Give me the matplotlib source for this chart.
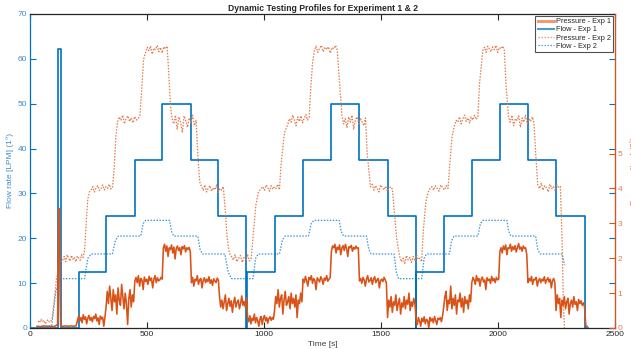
import numpy as np
import matplotlib
matplotlib.use("Agg")
import matplotlib.pyplot as plt
from matplotlib.lines import Line2D

plt.rcParams['font.family'] = ['Liberation Sans', 'DejaVu Sans']

# ---------------- DATA ----------------
# Flow - Exp 1 (step profile, LPM), drawn as steps-post
flow1_t = [0, 119, 133, 208, 325, 448, 566, 686, 805, 925, 929, 1045, 1167, 1288,
           1408, 1528, 1648, 1650, 1768, 1888, 2008, 2128, 2248, 2370, 2385]
flow1_v = [0, 62.3, 0, 12.5, 25, 37.5, 50, 37.5, 25, 0, 12.5, 25, 37.5, 50,
           37.5, 25, 0, 12.5, 25, 37.5, 50, 37.5, 25, 0, 0]

# Flow - Exp 2 (LPM)
flow2_t = [30, 93, 110, 127, 233, 247, 261, 352, 365, 378, 473, 484, 494, 596, 605, 614,
           717, 727, 737, 833, 847, 861, 953, 964, 975, 1066, 1078, 1090, 1190, 1202, 1213,
           1321, 1330, 1340, 1438, 1448, 1458, 1556, 1565, 1575, 1674, 1684, 1694, 1792,
           1802, 1812, 1914, 1925, 1935, 2038, 2046, 2055, 2161, 2170, 2180, 2274, 2285]
flow2_v = [0, 0.5, 8, 11, 11, 15.5, 16.5, 16.5, 19.5, 20.5, 20.5, 23.3, 24, 24, 21.5, 20.5,
           20.5, 17.5, 16.5, 16.5, 12.5, 11, 11, 15.5, 16.5, 16.5, 19.5, 20.5, 20.5, 23.3, 24,
           24, 21.5, 20.5, 20.5, 17.5, 16.5, 16.5, 12.5, 11, 11, 15.5, 16.5, 16.5,
           19.5, 20.5, 20.5, 23.3, 24, 24, 21.5, 20.5, 20.5, 17.5, 16.5, 16.5, 14]

# Pressure - Exp 1 (bar) : segments (t_start, t_end, samples)
press1_segments = [
    (30, 118, [0.05, 0.04, 0.06, 0.05, 0.05, 0.04]),
    (118, 131, [0.1, 2.0, 3.43, 3.2, 1.0]),
    (131, 208, [0.06, 0.05, 0.06, 0.05, 0.06, 0.05, 0.06]),
    (208, 325, [0.35, 0.2, 0.3, 0.15, 0.38, 0.25, 0.32, 0.12, 0.28, 0.36, 0.22, 0.3, 0.18, 0.33, 0.27, 0.4, 0.2, 0.29, 0.1, 0.34, 0.26, 0.31, 0.05, 0.3]),
    (325, 448, [0.6, 1.05, 0.7, 1.2, 0.85, 0.5, 1.1, 0.75, 0.95, 0.4, 1.15, 0.8, 0.65, 1.25, 0.9, 0.55, 1.0, 0.7, 0.1, 0.85, 1.1, 0.6, 0.95, 0.75]),
    (448, 570, [1.35, 1.45, 1.3, 1.5, 1.2, 1.42, 1.38, 1.1, 1.46, 1.33, 1.4, 1.25, 1.48, 1.36, 1.43, 1.15, 1.4, 1.5, 1.3, 1.44, 1.35, 1.38, 1.45, 1.4]),
    (570, 690, [2.3, 2.4, 2.2, 2.35, 2.05, 2.3, 2.25, 2.38, 2.15, 2.32, 1.98, 2.28, 2.35, 2.22, 2.3, 2.1, 2.33, 2.27, 2.36, 2.18, 2.3, 2.25, 2.31, 2.2]),
    (690, 810, [1.3, 1.45, 1.2, 1.4, 1.35, 1.5, 1.25, 1.38, 1.42, 1.15, 1.36, 1.44, 1.3, 1.4, 1.33, 1.47, 1.28, 1.38, 1.22, 1.41, 1.35, 1.3, 1.43, 1.37]),
    (810, 930, [0.9, 0.6, 0.8, 0.55, 0.75, 0.95, 0.5, 0.7, 0.85, 0.62, 0.78, 0.45, 0.72, 0.88, 0.6, 0.74, 0.8, 0.55, 0.7, 0.92, 0.65, 0.76, 0.6, 0.85]),
    (930, 1045, [0.3, 0.18, 0.35, 0.12, 0.28, 0.22, 0.4, 0.15, 0.3, 0.2, 0.05, 0.26, 0.33, 0.1, 0.28, 0.36, 0.2, 0.3, 0.14, 0.27, 0.32, 0.22, 0.3, 0.25]),
    (1045, 1167, [0.5, 0.9, 0.7, 1.1, 0.6, 0.85, 0.95, 0.4, 0.8, 1.05, 0.65, 0.75, 0.9, 0.55, 1.0, 0.7, 0.85, 0.6, 0.95, 0.3, 0.8, 0.7, 1.0, 0.75]),
    (1167, 1288, [1.4, 1.3, 1.48, 1.35, 1.2, 1.45, 1.38, 1.5, 1.28, 1.42, 1.36, 1.1, 1.44, 1.38, 1.32, 1.47, 1.4, 1.25, 1.43, 1.37, 1.5, 1.34, 1.4, 1.45]),
    (1288, 1408, [2.2, 2.35, 2.3, 2.4, 2.15, 2.32, 2.25, 2.38, 2.1, 2.3, 2.36, 2.22, 2.4, 2.28, 2.05, 2.33, 2.3, 2.37, 2.2, 2.31, 2.26, 2.35, 2.28, 2.3]),
    (1408, 1528, [1.35, 1.42, 1.28, 1.45, 1.38, 1.2, 1.4, 1.5, 1.32, 1.36, 1.44, 1.25, 1.4, 1.47, 1.3, 1.38, 1.42, 1.15, 1.36, 1.4, 1.33, 1.45, 1.38, 1.3]),
    (1528, 1650, [0.3, 0.8, 0.6, 0.9, 0.45, 0.75, 0.65, 0.95, 0.5, 0.7, 0.85, 0.4, 0.72, 0.6, 0.9, 0.55, 0.8, 0.68, 1.0, 0.5, 0.75, 0.62, 0.85, 0.7]),
    (1650, 1768, [0.25, 0.1, 0.3, 0.2, 0.05, 0.28, 0.18, 0.32, 0.12, 0.25, 0.22, 0.0, 0.3, 0.2, 0.27, 0.15, 0.33, 0.22, 0.1, 0.28, 0.24, 0.3, 0.18, 0.35]),
    (1768, 1888, [0.6, 0.9, 1.05, 0.5, 0.8, 0.7, 1.2, 0.55, 0.85, 0.65, 0.95, 0.4, 0.8, 0.75, 1.0, 0.6, 0.85, 0.45, 0.9, 0.7, 0.8, 0.55, 0.95, 0.75]),
    (1888, 2008, [1.3, 1.45, 1.38, 1.25, 1.5, 1.35, 1.42, 1.2, 1.4, 1.46, 1.32, 1.38, 1.1, 1.44, 1.36, 1.4, 1.28, 1.48, 1.35, 1.42, 1.3, 1.45, 1.38, 1.4]),
    (2008, 2128, [2.2, 2.3, 2.15, 2.35, 2.25, 2.38, 2.1, 2.3, 2.28, 2.4, 2.2, 2.33, 2.25, 2.36, 2.18, 2.3, 2.42, 2.26, 2.32, 2.2, 2.35, 2.28, 2.3, 2.1]),
    (2128, 2248, [1.3, 1.42, 1.35, 1.48, 1.25, 1.4, 1.38, 1.45, 1.2, 1.36, 1.42, 1.3, 1.4, 1.35, 1.47, 1.28, 1.38, 1.44, 1.32, 1.4, 1.15, 1.36, 1.42, 1.3]),
    (2248, 2370, [0.5, 0.95, 0.7, 0.85, 0.3, 0.8, 0.65, 0.9, 0.55, 0.75, 0.85, 0.4, 0.7, 0.8, 0.6, 0.9, 0.68, 0.75, 0.5, 0.82, 0.7, 0.78, 0.65, 0.72]),
    (2370, 2386, [0.6, 0.05, 0.05]),
]

# Pressure - Exp 2 (bar) : segments (t_start, t_end, samples)
press2_segments = [
    (35, 95, [0.2, 0.15, 0.25, 0.18, 0.22, 0.12, 0.2, 0.24, 0.17, 0.2]),
    (95, 140, [0.3, 0.8, 1.4, 1.7, 1.9]),
    (140, 233, [1.95, 2.05, 1.9, 2.1, 2.0, 1.92, 2.08, 1.97, 2.03, 1.9, 2.06, 2.0, 1.94, 2.1, 2.02]),
    (233, 261, [2.2, 3.0, 3.7, 3.9]),
    (261, 360, [3.95, 4.05, 3.9, 4.02, 4.08, 3.94, 4.0, 4.1, 3.96, 4.05, 4.0, 4.12, 3.98, 4.06]),
    (360, 374, [4.6, 5.5]),
    (374, 477, [5.9, 6.05, 5.95, 6.1, 5.85, 6.0, 6.08, 5.92, 6.02, 5.88, 6.06, 5.96, 6.0, 6.1]),
    (477, 494, [6.8, 7.7]),
    (494, 593, [7.9, 8.05, 7.95, 8.08, 7.85, 8.02, 7.98, 8.1, 7.92, 8.04, 7.88, 8.06, 8.0, 8.08]),
    (593, 607, [7.3, 6.4]),
    (607, 717, [6.0, 5.85, 6.1, 5.7, 6.05, 5.9, 5.6, 6.08, 5.95, 5.75, 6.02, 5.88, 6.1, 5.8, 5.95]),
    (717, 733, [5.0, 4.2]),
    (733, 833, [4.05, 3.95, 4.1, 3.9, 4.0, 4.08, 3.92, 4.02, 3.96, 4.1, 3.88, 4.0, 3.95, 4.05]),
    (833, 861, [3.5, 2.6, 2.15]),
    (861, 953, [2.05, 1.95, 2.1, 1.9, 2.0, 2.08, 1.88, 2.02, 1.96, 2.1, 1.92, 2.0]),
    (953, 988, [2.6, 3.5, 3.9]),
    (988, 1073, [4.0, 4.05, 3.95, 4.1, 4.02, 3.92, 4.08, 3.98, 4.05, 4.0, 4.12, 3.96]),
    (1073, 1102, [4.7, 5.6]),
    (1102, 1200, [5.85, 6.0, 5.9, 6.1, 5.95, 5.8, 6.05, 5.92, 6.08, 5.88, 6.02, 6.12, 5.96, 6.05]),
    (1200, 1215, [6.9, 7.6]),
    (1215, 1321, [7.95, 8.08, 7.9, 8.02, 8.1, 7.92, 8.05, 7.98, 8.06, 7.88, 8.04, 8.0, 8.1, 7.95]),
    (1321, 1333, [7.2]),
    (1333, 1441, [6.1, 5.85, 6.0, 5.75, 6.05, 5.9, 6.1, 5.7, 5.98, 6.05, 5.85, 6.0, 5.9, 5.8, 6.02]),
    (1441, 1455, [5.0]),
    (1455, 1556, [4.05, 4.12, 3.95, 4.08, 4.0, 3.9, 4.1, 4.02, 3.96, 4.06, 3.92, 4.0, 4.05, 3.98]),
    (1556, 1580, [3.4, 2.5]),
    (1580, 1681, [2.05, 1.9, 2.0, 1.85, 2.08, 1.95, 2.02, 1.88, 2.05, 1.92, 2.1, 1.96, 2.0, 1.9]),
    (1681, 1702, [2.8, 3.6]),
    (1702, 1794, [3.9, 4.0, 4.05, 3.95, 4.08, 4.0, 3.92, 4.1, 4.02, 3.96, 4.08, 4.0]),
    (1794, 1814, [4.7, 5.5]),
    (1814, 1921, [5.8, 5.95, 5.9, 6.05, 5.85, 6.0, 6.1, 5.92, 6.02, 5.88, 6.05, 5.96, 6.1, 5.98, 6.04]),
    (1921, 1935, [7.0]),
    (1935, 2034, [7.95, 8.05, 7.9, 8.08, 8.0, 7.92, 8.06, 7.98, 8.1, 7.9, 8.04, 8.0, 8.08, 7.96]),
    (2034, 2045, [7.0]),
    (2045, 2161, [6.05, 5.9, 6.1, 5.8, 6.0, 5.95, 6.08, 5.75, 6.02, 5.9, 6.1, 5.85, 6.0, 5.92, 6.05, 5.88]),
    (2161, 2170, [5.0]),
    (2170, 2274, [4.1, 4.0, 4.15, 3.95, 4.08, 4.02, 3.9, 4.12, 4.0, 4.06, 3.94, 4.1, 4.02, 4.05]),
    (2274, 2289, [2.5, 0.8, 0.0]),
]

x_ticks = [0, 500, 1000, 1500, 2000, 2500]
left_ticks = [0, 10, 20, 30, 40, 50, 60, 70]
right_ticks = [0, 1, 2, 3, 4, 5]


def flatten(segments):
    ts, vs = [], []
    for t0, t1, vals in segments:
        n = len(vals)
        ts.extend(np.linspace(t0, t1, n, endpoint=False))
        vs.extend(vals)
    return np.array(ts), np.array(vs)


p1_t, p1_v = flatten(press1_segments)
p2_t, p2_v = flatten(press2_segments)

BLUE = '#0072BD'
ORANGE = '#D95319'

fig = plt.figure(figsize=(6.31, 3.49), dpi=100)
ax = fig.add_axes([30 / 631, 21 / 349, 585 / 631, 314 / 349])
ax2 = ax.twinx()

ax.plot(flow1_t, flow1_v, drawstyle='steps-post', color=BLUE, lw=1.2, zorder=3)
ax.plot(flow2_t, flow2_v, color='#3C96D6', lw=0.9, ls=(0, (1.2, 1.2)), zorder=2)

ax2.plot(p1_t, p1_v, color=ORANGE, lw=1.15, zorder=3)
ax2.plot(p2_t, p2_v, color='#E27A4C', lw=0.9, ls=(0, (1.2, 1.2)), zorder=2)

ax.set_xlim(0, 2500)
ax.set_ylim(0, 70)
ax2.set_ylim(0, 9.0)
ax.set_xticks(x_ticks)
ax.set_yticks(left_ticks)
ax2.set_yticks(right_ticks)

ax.tick_params(axis='x', direction='in', top=True, length=4, width=0.8,
               labelsize=6, colors='#262626', pad=2)
ax.tick_params(axis='y', direction='in', right=True, length=4, width=0.8,
               labelsize=6, color=BLUE, labelcolor='#3C8DCB', pad=2)
ax2.tick_params(axis='y', direction='in', length=4, width=0.8,
                labelsize=6, color=ORANGE, labelcolor='#E07A4E', pad=2)

for s in ['top', 'bottom']:
    ax.spines[s].set_color('#262626')
    ax.spines[s].set_linewidth(0.9)
    ax2.spines[s].set_visible(False)
ax.spines['left'].set_color(BLUE)
ax.spines['left'].set_linewidth(0.9)
ax.spines['right'].set_color(BLUE)
ax2.spines['left'].set_visible(False)
ax2.spines['right'].set_color(ORANGE)
ax2.spines['right'].set_linewidth(0.9)

ax.set_xlabel('Time [s]', fontsize=6, color='#404040', labelpad=2)
ax.set_ylabel('Flow rate [LPM] (1°)', fontsize=6, color='#3C8DCB', labelpad=3)
ax2.set_ylabel('Pressure [bar] (2°)', fontsize=6, color='#E07A4E')
ax2.yaxis.set_label_coords(1.0 + 15 / 585, 0.5)
ax.set_title('Dynamic Testing Profiles for Experiment 1 & 2', fontsize=6.2,
             fontweight='bold', color='#262626', pad=2.5)

handles = [
    Line2D([], [], color='#EE9B77', lw=2.2),
    Line2D([], [], color='#4C9AD6', lw=1.5),
    Line2D([], [], color='#EE9B77', lw=0.9, ls=(0, (1.2, 1.2))),
    Line2D([], [], color='#4FA3DD', lw=0.9, ls=(0, (1.2, 1.2))),
]
labels = ['Pressure - Exp 1', 'Flow - Exp 1', 'Pressure - Exp 2', 'Flow - Exp 2']
leg = ax2.legend(handles, labels, loc='upper right', fontsize=5.3, frameon=True,
                 fancybox=False, borderpad=0.3, labelspacing=0.15, handlelength=2.2,
                 handletextpad=0.3, borderaxespad=0.25)
leg.get_frame().set_edgecolor('#262626')
leg.get_frame().set_linewidth(0.8)
for t in leg.get_texts():
    t.set_color('#262626')

fig.savefig('out.png', dpi=100)
